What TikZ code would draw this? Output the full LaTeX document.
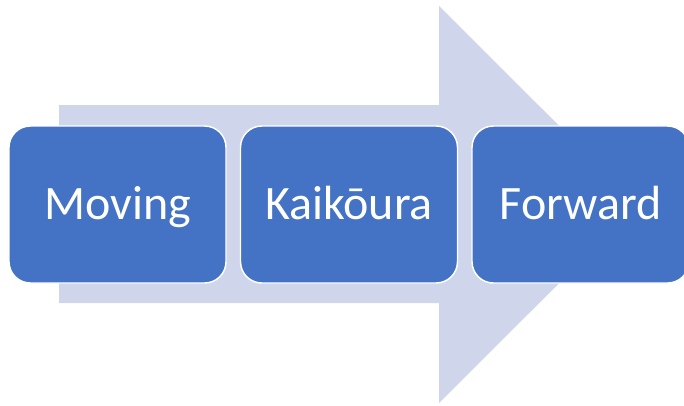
\documentclass[tikz,border=0pt]{standalone}
\usepackage{fontspec}
\setmainfont{Carlito}
\usepackage{xcolor}
\usepackage{tikz}

\definecolor{stepblue}{RGB}{68,114,196}
\definecolor{arrowgrey}{RGB}{207,213,234}

\tikzset{
	stepbox/.style={rectangle, rounded corners=16pt, fill=stepblue, draw=white, line width=1.1pt,
		minimum width=162.75pt, minimum height=117.75pt, inner sep=0pt,
		text height=22.8pt, text depth=0pt,
		text=white, font=\fontsize{36}{40}\selectfont},
}

\begin{document}
\begin{tikzpicture}[x=0.75pt,y=0.75pt,yscale=-1,xscale=1]
	\useasboundingbox (0,0) rectangle (684,405); %set diagram size to the reference
	
	%Big Arrow 
	\fill [arrowgrey] (59,105) -- (439,105) -- (439,6) -- (638,204.5) -- (439,403) -- (439,303) -- (59,303) -- cycle ;
	
	% Step Nodes
	\node [stepbox] (moving) at (117.5,204.5) {Moving};
	\node [stepbox] (kaikoura) at (349,204.5) {Kaikōura};
	\node [stepbox] (forward) at (580.5,204.5) {Forward};
	
\end{tikzpicture}
\end{document}
